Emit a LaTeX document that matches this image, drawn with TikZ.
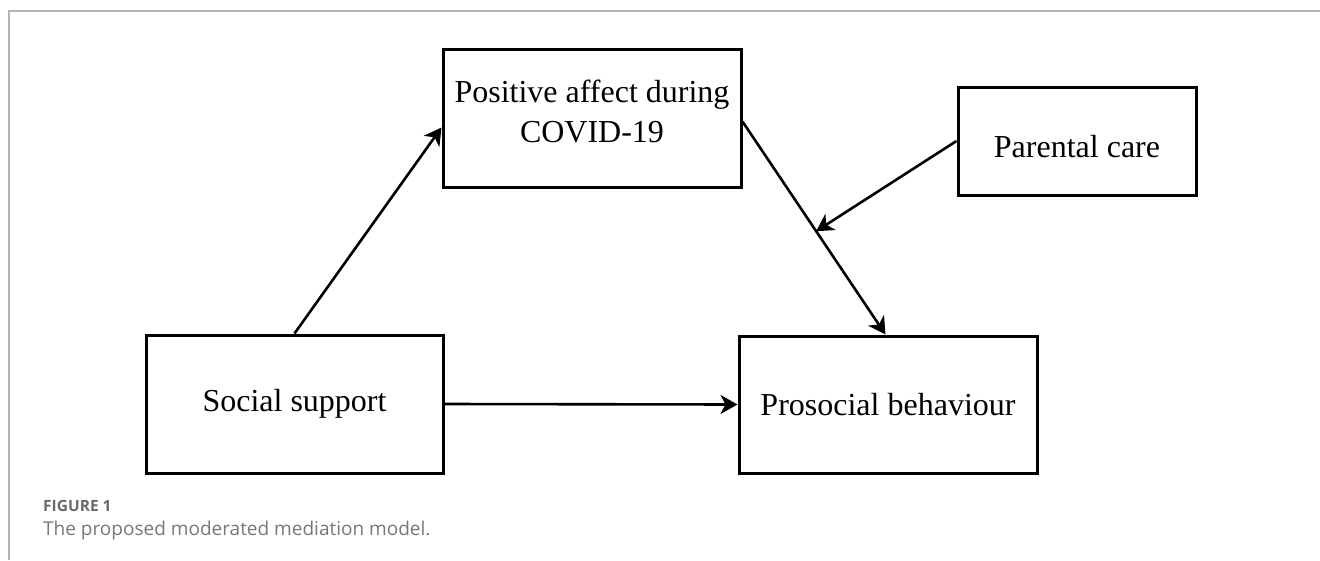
\documentclass[tikz,border=0pt]{standalone}
\usepackage{fontspec}
\setmainfont{Liberation Serif}
\newfontfamily\capfont{Open Sans}
\usetikzlibrary{arrows.meta,calc}
\definecolor{framegray}{HTML}{B4B4B4}
\definecolor{capdark}{HTML}{6A6A6A}
\definecolor{caplight}{HTML}{777777}
\tikzset{
  varbox/.style={draw=black, line width=3pt, inner sep=0pt, align=center,
    font=\fontsize{32}{40}\selectfont},
  path/.style={line width=2.6pt, -{Stealth[length=17pt,width=19pt,inset=5pt]}},
}
\begin{document}
\begin{tikzpicture}[x=1pt,y=-1pt]
\useasboundingbox (0,0) rectangle (1320,560);
% outer frame corner
\draw[framegray, line width=1.6pt] (9,560) -- (9,11) -- (1320,11);
% nodes
\node[varbox, minimum width=298pt, minimum height=138pt, text depth=14pt] (pa) at (592,118) {Positive affect during\\COVID-19};
\node[varbox, minimum width=238pt, minimum height=108pt, text height=32pt, text depth=0pt] (pc) at (1077,141) {Parental care};
\node[varbox, minimum width=297pt, minimum height=138pt] (ss) at (294.5,404) {Social support};
\node[varbox, minimum width=298pt, minimum height=137pt] (pb) at (888,404.5) {Prosocial behaviour};
% connectors
\coordinate (paout) at ([yshift=-74pt]pa.north east);
\coordinate (pbin) at ([xshift=148pt]pb.north west);
\draw[path] ([xshift=150pt]ss.north west) -- ([yshift=-80pt]pa.north west);
\draw[path] (paout) -- (pbin);
\coordinate (mod) at ($(paout)!0.515!(pbin)$);
\draw[path] (pc.west) -- (mod);
\draw[path] (ss.east) -- (pb.west);
% caption
\node[anchor=base west, inner sep=0pt, text=capdark, font=\capfont\bfseries\fontsize{15.5}{17}\selectfont] (fig) at (43,511) {FIGURE 1};
\node[anchor=base west, inner sep=0pt, text=caplight, font=\capfont\fontsize{19}{21}\selectfont] (cap) at (43,535) {The proposed moderated mediation model.};
\end{tikzpicture}
\end{document}
